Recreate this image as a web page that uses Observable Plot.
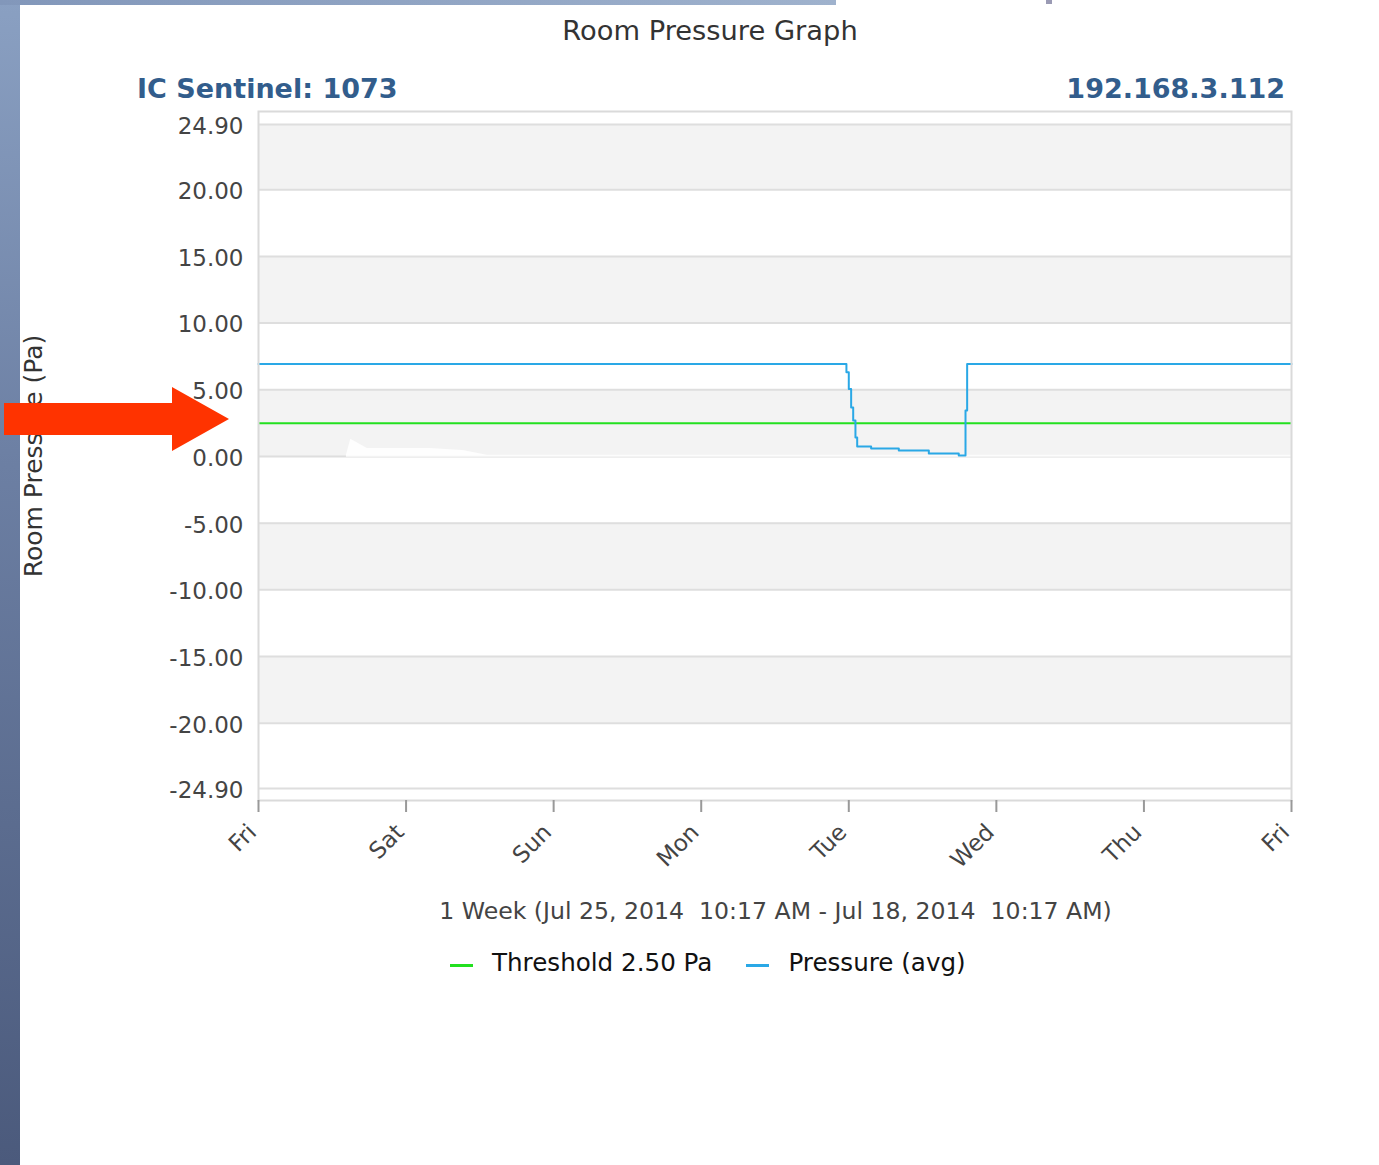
<!DOCTYPE html>
<html>
<head>
<meta charset="utf-8">
<script src="https://cdn.jsdelivr.net/npm/d3@7"></script>
<script src="https://cdn.jsdelivr.net/npm/@observablehq/plot@0.6"></script>
<style>
  html, body { margin: 0; padding: 0; background: #fff; }
  #page { position: relative; width: 1379px; height: 1165px; overflow: hidden; background: #fff; font-family: "DejaVu Sans", sans-serif; }
  .abs { position: absolute; white-space: pre; }
</style>
</head>
<body>
<div id="page">
  <div class="abs" style="left:0;top:0;width:20px;height:1165px;background:linear-gradient(#8aa0c2,#6c7fa3 40%,#4b5a7c);"></div>
  <div class="abs" style="left:0;top:0;width:836px;height:5px;background:linear-gradient(to right,#8297ba,#9fb2cd);"></div>
  <div class="abs" style="left:1046px;top:0;width:6px;height:4px;background:#9a9ab4;"></div>
  <div id="chart" class="abs" style="left:0;top:0;"></div>
  <div id="title" class="abs" style="left:0;width:1420px;top:15px;text-align:center;font-size:27.3px;color:#333;"></div>
  <div id="hdrL" class="abs" style="left:137px;top:73px;font-size:27px;font-weight:bold;color:#325d8c;"></div>
  <div id="hdrR" class="abs" style="right:94px;top:73px;font-size:27px;font-weight:bold;color:#325d8c;text-align:right;"></div>
  <div id="ylab" class="abs" style="left:33px;top:456px;font-size:25px;color:#333;transform:translate(-50%,-50%) rotate(-90deg);"></div>
  <div id="caption" class="abs" style="left:0;width:1551px;top:897px;text-align:center;font-size:23.6px;color:#444;"></div>
  <div id="legend" class="abs" style="left:450px;top:948px;font-size:24.6px;color:#111;display:flex;align-items:center;"></div>
  <svg class="abs" style="left:0;top:0;" width="260" height="470">
    <polygon points="4,403 172,403 172,387 229,419 172,451 172,435 4,435" fill="#ff3300"/>
  </svg>
</div>
<script>
// ---- data ----
const chartTitle = "Room Pressure Graph";
const sensorLabel = "IC Sentinel: 1073";
const ipLabel = "192.168.3.112";
const yAxisLabel = "Room Pressure (Pa)";
const rangeCaption = "1 Week (Jul 25, 2014  10:17 AM - Jul 18, 2014  10:17 AM)";
const seriesNames = ["Threshold 2.50 Pa", "Pressure (avg)"];
const seriesColors = ["#22e01f", "#2aa8e6"];

const rangeStart = "2014-07-18T10:17:00Z";
const rangeEnd = "2014-07-25T10:17:00Z";
const dayTicks = ["2014-07-18T10:17:00Z","2014-07-19T10:17:00Z","2014-07-20T10:17:00Z","2014-07-21T10:17:00Z",
                  "2014-07-22T10:17:00Z","2014-07-23T10:17:00Z","2014-07-24T10:17:00Z","2014-07-25T10:17:00Z"];
const yTicks = [24.9, 20, 15, 10, 5, 0, -5, -10, -15, -20, -24.9];
const yDomain = [-25.8, 25.87];
const bandLo = [20, 10, 0, -10, -20];
const bandHi = [24.9, 15, 5, -5, -15];

const threshold = 2.5;

const pressureTimes = ["2014-07-18T10:17:00Z","2014-07-22T09:54:00Z","2014-07-22T10:17:00Z","2014-07-22T10:40:00Z",
  "2014-07-22T11:00:00Z","2014-07-22T11:22:00Z","2014-07-22T11:39:00Z","2014-07-22T13:55:00Z","2014-07-22T18:25:00Z",
  "2014-07-22T23:18:00Z","2014-07-23T04:10:00Z","2014-07-23T05:16:00Z","2014-07-23T05:32:00Z","2014-07-25T10:17:00Z"];
const pressureValues = [6.94, 6.31, 5.06, 3.68, 2.69, 1.43, 0.74, 0.59, 0.44, 0.23, 0.08, 3.44, 6.94, 6.94];

// faint white min-area near zero
const minTimes = ["2014-07-19T00:35:00Z","2014-07-19T01:17:00Z","2014-07-19T01:40:00Z","2014-07-19T04:00:00Z",
  "2014-07-19T14:17:00Z","2014-07-19T19:35:00Z","2014-07-19T23:29:00Z","2014-07-25T10:17:00Z"];
const minValues = [0.1, 1.3, 1.2, 0.6, 0.6, 0.44, 0.1, 0.1];

// ---- build ----
const P = d3.isoParse;
const pressure = pressureTimes.map((t, i) => ({t: P(t), v: pressureValues[i]}));
const minArea = minTimes.map((t, i) => ({t: P(t), v: minValues[i]}));
const bands = bandLo.map((lo, i) => ({lo, hi: bandHi[i]}));
const xTickDates = dayTicks.map(P);

const plot = Plot.plot({
  width: 1379,
  height: 880,
  marginLeft: 258,
  marginRight: 88,
  marginTop: 111,
  marginBottom: 80,
  style: {fontFamily: "DejaVu Sans", fontSize: "23px", color: "#444", background: "transparent", overflow: "visible"},
  x: {type: "utc", domain: [P(rangeStart), P(rangeEnd)]},
  y: {domain: yDomain},
  marks: [
    Plot.rect(bands, {y1: "lo", y2: "hi", fill: "#f3f3f3"}),
    Plot.ruleY(yTicks, {stroke: "#dedede", strokeWidth: 2}),
    Plot.areaY(minArea, {x: "t", y1: -0.05, y2: "v", fill: "#ffffff", fillOpacity: 0.85, curve: "linear"}),
    Plot.ruleY([threshold], {stroke: seriesColors[0], strokeWidth: 2}),
    Plot.line(pressure, {x: "t", y: "v", curve: "step-after", stroke: seriesColors[1], strokeWidth: 2}),
    Plot.frame({stroke: "#dadada", strokeWidth: 2}),
    Plot.axisY({ticks: yTicks, tickFormat: d => d.toFixed(2), tickSize: 0, tickPadding: 15, dy: 2, label: null, fill: "#444"}),
    // tick marks
    Plot.axisX({ticks: xTickDates, tickFormat: () => "", tickSize: 12, label: null, stroke: "#999", strokeWidth: 2}),
    // rotated labels
    Plot.axisX({ticks: xTickDates, tickFormat: d3.utcFormat("%a"), tickRotate: -45, tickSize: 0, tickPadding: 18,
                dx: -6, dy: 10, label: null, fill: "#444"})
  ]
});
document.getElementById("chart").appendChild(plot);

document.getElementById("title").textContent = chartTitle;
document.getElementById("hdrL").textContent = sensorLabel;
document.getElementById("hdrR").textContent = ipLabel;
document.getElementById("ylab").textContent = yAxisLabel;
document.getElementById("caption").textContent = rangeCaption;

const legend = document.getElementById("legend");
seriesNames.forEach((name, i) => {
  const sw = document.createElement("span");
  sw.style.cssText = `display:inline-block;width:23px;height:3px;background:${seriesColors[i]};margin-top:6px;margin-right:19px;margin-left:${i ? 34 : 0}px;`;
  const tx = document.createElement("span");
  tx.textContent = name;
  legend.appendChild(sw);
  legend.appendChild(tx);
});
</script>
</body>
</html>
